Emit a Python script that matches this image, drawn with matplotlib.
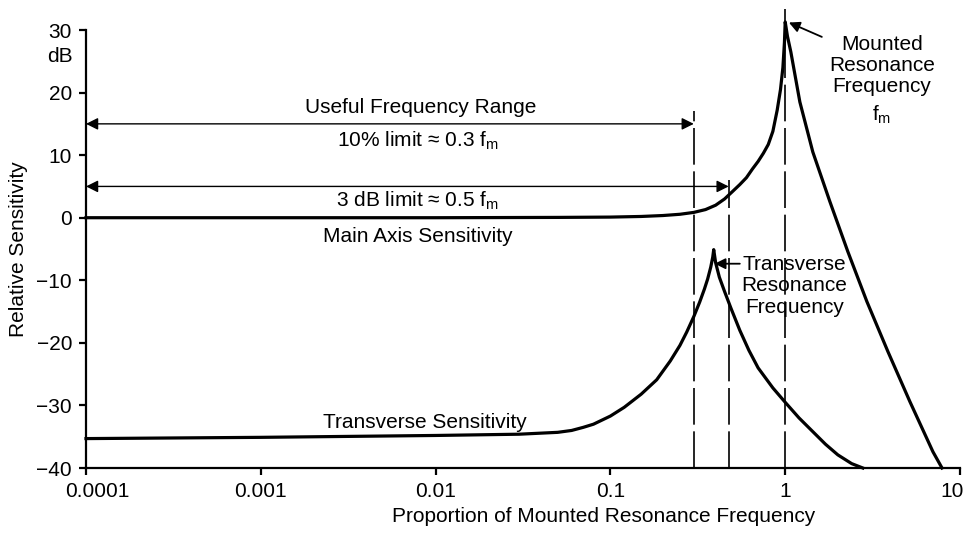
import matplotlib
matplotlib.use("Agg")
import matplotlib.pyplot as plt
from matplotlib.transforms import ScaledTranslation

plt.rcParams["font.family"] = ["Liberation Sans", "DejaVu Sans"]
plt.rcParams["mathtext.fontset"] = "custom"
plt.rcParams["mathtext.rm"] = "Liberation Sans"
plt.rcParams["mathtext.it"] = "Liberation Sans"

# main axis sensitivity
main_x = [0.0001, 0.001, 0.01, 0.05, 0.1, 0.15, 0.2, 0.25, 0.3, 0.35, 0.4,
          0.45, 0.5, 0.55, 0.6, 0.65, 0.7, 0.75, 0.8, 0.85, 0.9, 0.94, 0.97,
          0.99, 1.0, 1.03, 1.077, 1.213, 1.439, 1.8, 2.281, 2.933, 3.87,
          5.17, 7.0, 7.89]
main_y = [0.0, 0.0, 0.0, 0.05, 0.1, 0.2, 0.35, 0.55, 0.85, 1.3, 2.0,
          3.0, 4.2, 5.3, 6.4, 7.8, 9.0, 10.3, 11.7, 13.8, 17.2, 20.5, 24.0,
          28.0, 31.3, 29.0, 26.5, 18.5, 10.5, 2.6, -5.4, -13.4, -21.4,
          -29.4, -37.4, -40.0]

# transverse sensitivity
trans_x = [0.0001, 0.001, 0.01, 0.03, 0.05, 0.06, 0.07, 0.08, 0.1, 0.12, 0.15,
           0.184, 0.22, 0.25, 0.273, 0.3, 0.324, 0.345, 0.36, 0.375, 0.385,
           0.39, 0.40, 0.42, 0.45, 0.49, 0.55, 0.62, 0.7, 0.85, 1.0, 1.2,
           1.44, 1.7, 2.0, 2.4, 2.78]
trans_y = [-35.3, -35.1, -34.8, -34.6, -34.3, -34.0, -33.5, -33.0, -31.7, -30.3, -28.2,
           -25.9, -22.9, -20.4, -18.3, -15.8, -13.5, -11.4, -9.8, -7.9, -6.3,
           -5.1, -7.2, -9.5, -11.8, -14.5, -18.0, -21.2, -24.0, -27.2, -29.5, -32.0,
           -34.2, -36.2, -37.9, -39.3, -40.0]

x_ticks = [0.0001, 0.001, 0.01, 0.1, 1, 10]
x_tick_labels = ["0.0001", "0.001", "0.01", "0.1", "1", "10"]
y_ticks = [30, 20, 10, 0, -10, -20, -30, -40]
y_tick_labels = ["30", "20", "10", "0", "\u221210", "\u221220", "\u221230", "\u221240"]

# dashed marker lines: x position, top (dB)
marker_x = [0.3, 0.475, 1.0]
marker_top = [17.0, 6.1, 33.4]

FS = 15

fig = plt.figure(figsize=(9.76, 5.44), dpi=100)
ax = fig.add_axes([86 / 976, 1 - 468 / 544, (960 - 86) / 976, (468 - 30) / 544])

ax.plot(main_x, main_y, color="black", lw=2.3, solid_joinstyle="round", clip_on=False)
ax.plot(trans_x, trans_y, color="black", lw=2.3, solid_joinstyle="round", clip_on=False)

for xm, top in zip(marker_x, marker_top):
    ax.plot([xm, xm], [-40, top], color="black", lw=1.2, dashes=(22, 4), clip_on=False)

ax.set_xscale("log")
ax.set_xlim(0.0001, 10)
ax.set_ylim(-40, 30)
ax.set_xticks(x_ticks)
ax.set_xticklabels(x_tick_labels)
ax.minorticks_off()
ax.set_yticks(y_ticks)
ax.set_yticklabels(y_tick_labels)

for s in ["top", "right"]:
    ax.spines[s].set_visible(False)
for s in ["left", "bottom"]:
    ax.spines[s].set_linewidth(1.6)
ax.tick_params(axis="both", direction="out", length=5, width=1.6, labelsize=FS, pad=5)

# nudge end labels like the original
xt = ax.xaxis.get_major_ticks()
xt[0].label1.set_transform(xt[0].label1.get_transform()
                           + ScaledTranslation(0.11, 0, fig.dpi_scale_trans))
xt[-1].label1.set_transform(xt[-1].label1.get_transform()
                            + ScaledTranslation(-0.08, 0, fig.dpi_scale_trans))

ax.set_ylabel("Relative Sensitivity", fontsize=FS, labelpad=6)
fig.text(604 / 976, 1 - 516 / 544, "Proportion of Mounted Resonance Frequency",
         fontsize=FS, ha="center", va="center")
fig.text(60 / 976, 1 - 56 / 544, "dB", fontsize=FS, ha="center", va="center")

# range arrows
arrow = dict(arrowstyle="<|-|>", color="black", lw=1.0, mutation_scale=18,
             shrinkA=0, shrinkB=0)
ax.annotate("", xy=(0.0001, 15), xytext=(0.3, 15), arrowprops=arrow)
ax.annotate("", xy=(0.0001, 5), xytext=(0.475, 5), arrowprops=arrow)

ax.text(0.0082, 17.6, "Useful Frequency Range", fontsize=FS, ha="center", va="center")
ax.text(0.0079, 12.3, "10% limit \u2248 0.3 f$_{\\rm m}$", fontsize=FS, ha="center", va="center")
ax.text(0.0079, 2.7, "3 dB limit \u2248 0.5 f$_{\\rm m}$", fontsize=FS, ha="center", va="center")
ax.text(0.0079, -3.0, "Main Axis Sensitivity", fontsize=FS, ha="center", va="center")
ax.text(0.0087, -32.8, "Transverse Sensitivity", fontsize=FS, ha="center", va="center")

# mounted resonance label
ax.annotate("", xy=(1.05, 31.2), xytext=(1.62, 28.9),
            arrowprops=dict(arrowstyle="-|>", color="black", lw=1.3,
                            mutation_scale=16, shrinkA=0, shrinkB=0),
            annotation_clip=False)
ax.text(3.57, 24.3, "Mounted\nResonance\nFrequency", fontsize=FS, ha="center",
        va="center", linespacing=1.13, multialignment="center", clip_on=False)
ax.text(3.55, 16.5, "f$_{\\rm m}$", fontsize=FS, ha="center", va="center")

# transverse resonance label
ax.annotate("", xy=(0.395, -7.35), xytext=(0.55, -7.35),
            arrowprops=dict(arrowstyle="-|>", color="black", lw=1.3,
                            mutation_scale=16, shrinkA=0, shrinkB=0))
ax.text(1.13, -10.9, "Transverse\nResonance\nFrequency", fontsize=FS, ha="center",
        va="center", linespacing=1.15, multialignment="center")

fig.savefig("out.png", dpi=100)
